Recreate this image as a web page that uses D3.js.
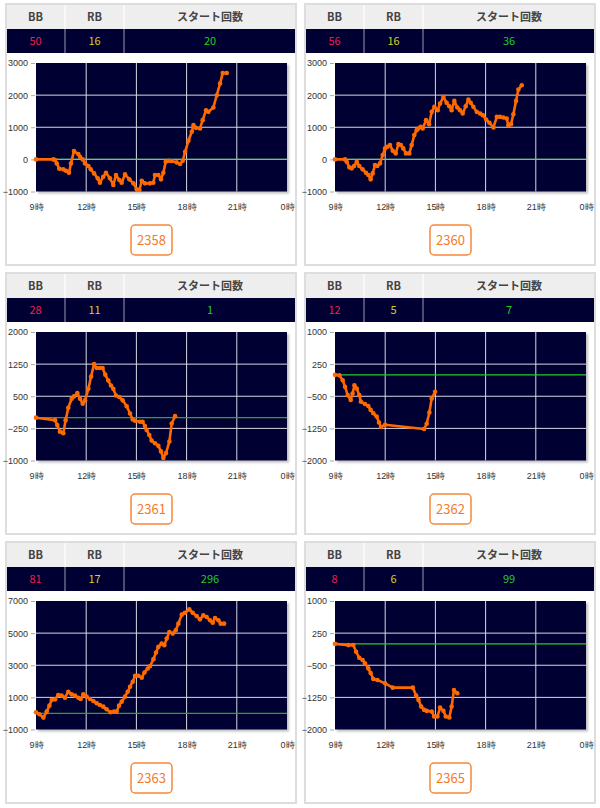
<!DOCTYPE html>
<html><head><meta charset="utf-8">
<script src="https://cdn.jsdelivr.net/npm/d3@7"></script>
<style>
html,body{margin:0;padding:0;background:#fff;}
svg{display:block;font-family:"Noto Sans CJK JP","Noto Sans",sans-serif;}
</style></head>
<body>
<svg id="chart" width="600" height="808"></svg>
<script>
// ---------- data ----------
const machines = ["2358", "2360", "2361", "2362", "2363", "2365"];
const bbCounts = [50, 56, 28, 12, 81, 8];
const rbCounts = [16, 16, 11, 5, 17, 6];
const startCounts = [20, 36, 1, 7, 296, 99];
const headerLabels = ["BB", "RB", "スタート回数"];
const xTickHours = [9, 12, 15, 18, 21, 24];
const xTickLabels = ["9時", "12時", "15時", "18時", "21時", "0時"];

const yTicks2358 = [-1000, 0, 1000, 2000, 3000];
const yTicks2360 = [-1000, 0, 1000, 2000, 3000];
const yTicks2361 = [-1000, -250, 500, 1250, 2000];
const yTicks2362 = [-2000, -1250, -500, 250, 1000];
const yTicks2363 = [-1000, 1000, 3000, 5000, 7000];
const yTicks2365 = [-2000, -1250, -500, 250, 1000];

const times2358 = [9.00,10.04,10.14,10.24,10.39,10.63,10.79,10.97,11.09,11.27,11.53,11.63,11.79,11.93,12.13,12.27,12.47,12.69,12.82,13.02,13.18,13.42,13.62,13.78,13.98,14.12,14.32,14.58,14.82,15.02,15.18,15.32,15.51,15.81,16.01,16.11,16.31,16.47,16.61,16.75,16.91,17.11,17.41,17.61,17.77,17.91,18.11,18.31,18.41,18.56,18.80,18.96,19.16,19.30,19.60,19.80,20.00,20.16,20.40];
const values2358 = [0,0,-22,-125,-291,-311,-353,-415,-125,258,165,82,0,-125,-208,-311,-436,-591,-726,-539,-415,-591,-798,-488,-643,-726,-467,-622,-746,-933,-953,-664,-746,-746,-726,-488,-488,-622,-415,-73,-42,-52,-94,-146,-42,237,579,858,1065,982,962,1221,1531,1479,1614,1997,2360,2691,2691];

const times2360 = [9.00,9.60,9.70,9.86,10.00,10.14,10.30,10.45,10.65,10.85,10.99,11.13,11.25,11.39,11.53,11.69,11.85,11.99,12.13,12.29,12.45,12.63,12.79,12.94,13.08,13.24,13.44,13.58,13.74,13.88,13.98,14.12,14.24,14.44,14.62,14.78,14.94,15.14,15.28,15.48,15.67,15.83,15.97,16.13,16.31,16.47,16.63,16.81,16.97,17.11,17.27,17.47,17.67,17.83,18.03,18.23,18.47,18.67,18.86,19.06,19.26,19.36,19.52,19.66,19.82,19.96,20.16];
const values2360 = [0,0,-73,-249,-280,-208,-73,-208,-311,-415,-488,-622,-436,-177,-208,-125,134,341,393,444,268,186,476,444,341,186,186,444,755,910,962,1014,962,1221,1096,1479,1635,1531,1738,1945,1759,1656,1531,1821,1614,1531,1428,1656,1862,1759,1635,1479,1428,1376,1241,1138,993,1324,1324,1303,1272,1065,1096,1407,1821,2173,2308];

const times2361 = [9.00,10.14,10.27,10.43,10.63,10.77,10.93,11.13,11.27,11.47,11.63,11.79,11.93,12.13,12.29,12.47,12.63,12.82,12.98,13.14,13.32,13.48,13.62,13.78,13.98,14.18,14.42,14.62,14.78,14.92,15.22,15.37,15.51,15.61,15.77,15.91,16.11,16.31,16.47,16.61,16.77,16.97,17.11,17.31];
const values2361 = [0,-58,-173,-327,-365,-58,230,442,496,573,442,327,404,673,958,1250,1158,1158,1158,1004,866,750,673,519,481,404,265,96,-42,-73,-96,-96,-196,-288,-404,-535,-596,-658,-788,-942,-827,-558,-135,35];

const times2362 = [9.00,9.26,9.46,9.60,9.76,9.94,10.05,10.16,10.30,10.45,10.55,10.79,10.99,11.13,11.29,11.49,11.63,11.75,11.99,14.32,14.48,14.64,14.78,14.98];
const values2362 = [0,-12,-127,-281,-473,-588,-435,-242,-319,-473,-627,-681,-727,-819,-896,-973,-1112,-1219,-1165,-1266,-1142,-881,-550,-396];

const times2363 = [9.00,9.20,9.44,9.64,9.80,9.94,10.14,10.33,10.53,10.73,10.93,11.13,11.33,11.53,11.67,11.83,12.03,12.23,12.43,12.63,12.82,13.02,13.22,13.46,13.66,13.82,13.96,14.12,14.32,14.48,14.62,14.78,14.92,15.12,15.32,15.48,15.68,15.82,16.02,16.17,16.31,16.51,16.67,16.81,16.97,17.17,17.35,17.51,17.71,17.90,18.16,18.36,18.60,18.80,19.00,19.20,19.40,19.56,19.70,19.90,20.04,20.24];
const values2363 = [72,-52,-258,113,485,837,878,1147,1106,981,1354,1189,1106,981,899,1189,1044,899,775,630,527,424,258,72,113,113,485,733,1044,1354,1664,1974,2346,2346,2222,2553,2801,2950,3379,3792,4143,4351,4247,4660,5073,4971,5177,5590,6149,6273,6479,6273,6066,5859,6107,6004,5797,5652,5941,5797,5590,5590];

const times2365 = [9.00,9.80,10.10,10.26,10.45,10.65,10.79,10.99,11.13,11.29,11.53,11.99,12.45,13.65,13.85,13.99,14.15,14.33,14.48,14.78,14.92,15.12,15.28,15.48,15.62,15.83,15.97,16.11,16.31];
const values2365 = [0,-30,-30,-185,-325,-379,-457,-573,-680,-821,-844,-922,-1023,-1023,-1209,-1310,-1465,-1542,-1565,-1581,-1698,-1698,-1489,-1565,-1698,-1721,-1465,-1077,-1154];

const seriesTimes = [times2358, times2360, times2361, times2362, times2363, times2365];
const seriesValues = [values2358, values2360, values2361, values2362, values2363, values2365];
const yTicksAll = [yTicks2358, yTicks2360, yTicks2361, yTicks2362, yTicks2363, yTicks2365];

// ---------- layout ----------
const svg = d3.select("#chart");
const defs = svg.append("defs");
const f = defs.append("filter").attr("id","shadow").attr("x","-5%").attr("y","-5%").attr("width","115%").attr("height","115%");
f.append("feDropShadow").attr("dx",2).attr("dy",2).attr("stdDeviation",1.2).attr("flood-color","#000").attr("flood-opacity",0.25);

const colX = [6, 305];
const rowY = [4, 273, 542];
const panelW = 290, panelH = 261;
const colEdges = [0, 59, 118, 290];
const zeroColors = ["#66cc66", "#66cc66", "#22aa22", "#22cc22", "#22aa22", "#22cc22"];

machines.forEach((m, i) => {
  const px = colX[i % 2], py = rowY[Math.floor(i / 2)];
  const g = svg.append("g").attr("transform", `translate(${px},${py})`);

  // panel border
  g.append("rect").attr("x",0).attr("y",0).attr("width",panelW).attr("height",panelH)
    .attr("fill","#fff").attr("stroke","#dddddd").attr("stroke-width",2);

  // header row
  g.append("rect").attr("x",1).attr("y",1).attr("width",panelW-2).attr("height",24).attr("fill","#eeeeee");
  g.append("rect").attr("x",1).attr("y",25).attr("width",panelW-2).attr("height",24).attr("fill","#000033");
  [1,2].forEach(k => {
    g.append("line").attr("x1",colEdges[k]).attr("x2",colEdges[k]).attr("y1",1).attr("y2",25)
      .attr("stroke","#ffffff").attr("stroke-width",1.2);
    g.append("line").attr("x1",colEdges[k]).attr("x2",colEdges[k]).attr("y1",25).attr("y2",49)
      .attr("stroke","#9a9aae").attr("stroke-width",1);
  });
  headerLabels.forEach((h, k) => {
    g.append("text").attr("x",(colEdges[k]+colEdges[k+1])/2).attr("y",17)
      .attr("text-anchor","middle").attr("font-size",11).attr("font-weight","bold").attr("fill","#444").text(h);
  });
  const vals = [bbCounts[i], rbCounts[i], startCounts[i]];
  const valColors = ["#e8214a", "#d8d020", "#22cc22"];
  vals.forEach((v, k) => {
    g.append("text").attr("x",(colEdges[k]+colEdges[k+1])/2).attr("y",41)
      .attr("text-anchor","middle").attr("font-size",11).attr("fill",valColors[k]).text(v);
  });

  // plot
  const pL = 30, pR = 281, pT = 59, pB = 187.5;
  const yt = yTicksAll[i];
  const x = d3.scaleLinear().domain([9, 24]).range([pL, pR]);
  const y = d3.scaleLinear().domain([yt[0], yt[yt.length-1]]).range([pB, pT]);

  g.append("rect").attr("x",pL).attr("y",pT).attr("width",pR-pL).attr("height",pB-pT)
    .attr("fill","#000033").attr("filter","url(#shadow)");

  // grid
  g.append("g").selectAll("line").data(xTickHours.slice(1, -1)).join("line")
    .attr("x1",d=>x(d)).attr("x2",d=>x(d)).attr("y1",pT).attr("y2",pB)
    .attr("stroke","#d8d8e4").attr("stroke-width",1);
  g.append("g").selectAll("line").data(yt.slice(1, -1)).join("line")
    .attr("x1",pL).attr("x2",pR).attr("y1",d=>y(d)).attr("y2",d=>y(d))
    .attr("stroke","#d8d8e4").attr("stroke-width",1);

  // zero line
  g.append("line").attr("x1",pL).attr("x2",pR).attr("y1",y(0)).attr("y2",y(0))
    .attr("stroke",zeroColors[i]).attr("stroke-width",1.3);

  // y axis
  const ya = g.append("g").attr("transform",`translate(${pL-1},0)`)
    .call(d3.axisLeft(y).tickValues(yt).tickSize(4).tickPadding(3).tickFormat(d3.format("d")));
  ya.select(".domain").remove();
  ya.selectAll(".tick line").attr("stroke","#aaa");
  ya.selectAll("text").attr("font-size",9).attr("fill","#333").attr("font-family","inherit");

  // x axis labels
  const xa = g.append("g").attr("transform",`translate(0,${pB})`)
    .call(d3.axisBottom(x).tickValues(xTickHours).tickSize(0).tickPadding(12)
      .tickFormat((d, k) => xTickLabels[k]));
  xa.select(".domain").remove();
  xa.selectAll("text").attr("font-size",9).attr("fill","#333").attr("font-family","inherit");

  // series
  const pts = seriesTimes[i].map((t, k) => [t, seriesValues[i][k]]);
  g.append("path").datum(pts)
    .attr("d", d3.line().x(d=>x(d[0])).y(d=>y(d[1])))
    .attr("fill","none").attr("stroke","#ff6a00").attr("stroke-width",2.6).attr("stroke-linejoin","round");
  g.append("g").selectAll("circle").data(pts).join("circle")
    .attr("cx",d=>x(d[0])).attr("cy",d=>y(d[1])).attr("r",2.3).attr("fill","#ff6a00");

  // button
  const bw = 41, bh = 30, bx = panelW/2 - bw/2 + 0.5, by = 221;
  g.append("rect").attr("x",bx).attr("y",by).attr("width",bw).attr("height",bh).attr("rx",4)
    .attr("fill","#fff").attr("stroke","#f7883a").attr("stroke-width",1.5);
  g.append("text").attr("x",bx+bw/2).attr("y",by+20).attr("text-anchor","middle")
    .attr("font-size",13).attr("fill","#f47a2a").text(m);
});
</script>
</body></html>
